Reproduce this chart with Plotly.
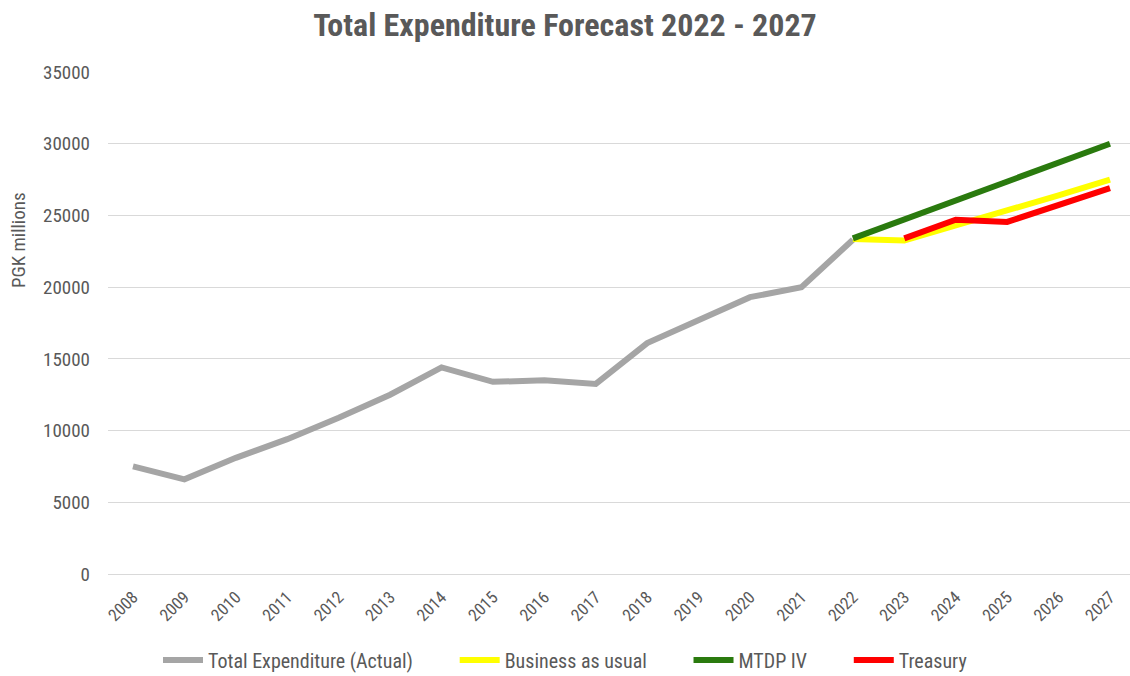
import plotly.graph_objects as go

years = list(range(2008, 2028))
actual_years = list(range(2008, 2023))
actual = [7500, 6600, 8100, 9400, 10900, 12500, 14400, 13400, 13500, 13250,
          16100, 17700, 19300, 20000, 23300]
fc_years = list(range(2022, 2028))
business = [23350, 23250, 24300, 25300, 26400, 27500]
mtdp = [23400, 24700, 26000, 27300, 28700, 30000]
tr_years = list(range(2023, 2028))
treasury = [23400, 24700, 24550, 25700, 26900]
ytick_vals = list(range(0, 35001, 5000))

FONT = "Liberation Sans Narrow, Arial Narrow, Roboto Condensed, sans-serif"
TXT = "#595959"
PAD = "&nbsp;" * 8

fig = go.Figure()
fig.add_trace(go.Scatter(x=actual_years, y=actual, mode="lines",
                         name="Total Expenditure (Actual)" + PAD,
                         line=dict(color="#A5A5A5", width=6)))
fig.add_trace(go.Scatter(x=fc_years, y=business, mode="lines",
                         name="Business as usual" + PAD,
                         line=dict(color="#FFFF00", width=6)))
fig.add_trace(go.Scatter(x=fc_years, y=mtdp, mode="lines",
                         name="MTDP IV" + PAD,
                         line=dict(color="#2A7A0E", width=6)))
fig.add_trace(go.Scatter(x=tr_years, y=treasury, mode="lines",
                         name="Treasury",
                         line=dict(color="#FF0000", width=6)))

fig.update_layout(
    width=1130, height=676,
    margin=dict(l=108, r=0, t=72, b=102, autoexpand=False),
    paper_bgcolor="white", plot_bgcolor="white",
    font=dict(family=FONT, color=TXT, size=17),
    title=dict(text="<b>Total Expenditure Forecast 2022 - 2027</b>",
               x=0.5, xanchor="center", yref="container", y=1 - 25 / 676,
               yanchor="middle",
               font=dict(size=32, color=TXT, family=FONT)),
    xaxis=dict(range=[2007.514, 2027.389], tickmode="array", tickvals=years,
               ticktext=[str(y) for y in years], tickangle=-45,
               ticklabelstandoff=9,
               showgrid=False, zeroline=False, showline=False, automargin=False,
               tickfont=dict(size=17, color=TXT, family=FONT)),
    yaxis=dict(range=[0, 35000], tickmode="array",
               tickvals=ytick_vals, ticktext=[str(v) for v in ytick_vals],
               showgrid=True, gridcolor="#D9D9D9", gridwidth=1.3,
               zeroline=True, zerolinecolor="#D9D9D9", zerolinewidth=1.3,
               showline=False, ticklabelstandoff=17, automargin=False,
               tickfont=dict(size=19, color=TXT, family=FONT)),
    legend=dict(orientation="h", x=0.5, xref="container", xanchor="center",
                yref="container", y=1 - 660 / 676, yanchor="middle",
                font=dict(size=20, color=TXT, family=FONT),
                itemwidth=40, tracegroupgap=0),
    showlegend=True,
)
fig.add_annotation(text="PGK millions", xref="x domain", yref="y domain",
                   x=(18 - 108) / 1022, y=(574 - 240) / 502,
                   xanchor="center", yanchor="middle",
                   showarrow=False, textangle=-90,
                   font=dict(size=19, color=TXT, family=FONT))
fig.write_html("out.html")
